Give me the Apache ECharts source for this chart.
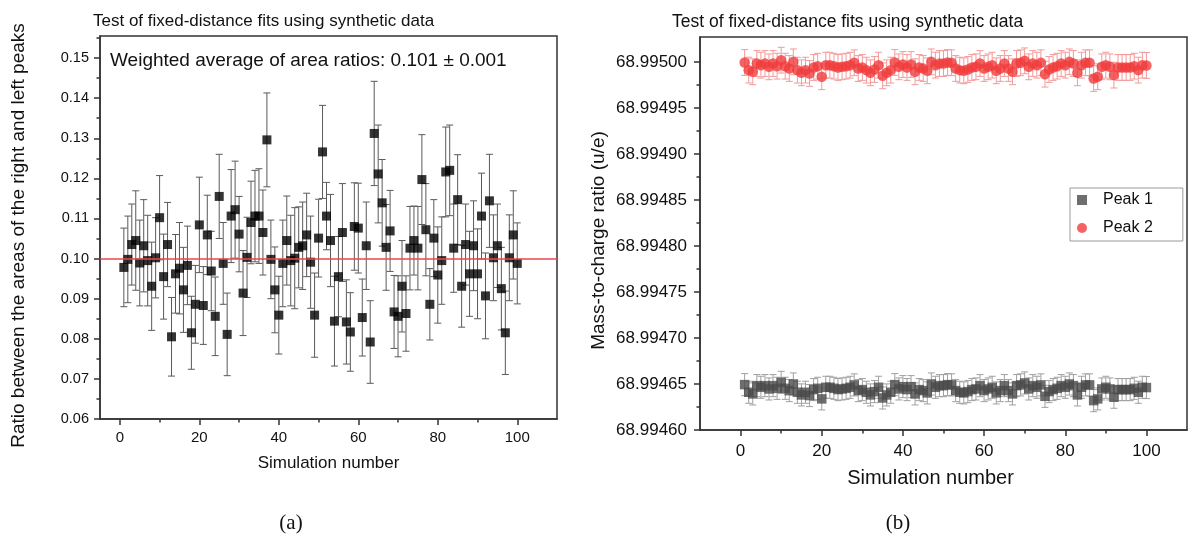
<!DOCTYPE html>
<html><head><meta charset="utf-8">
<script src="https://cdn.jsdelivr.net/npm/echarts@6/dist/echarts.min.js"></script>
<style>html,body{margin:0;padding:0;background:#fff}#c{width:1192px;height:540px}</style>
</head><body><div id="c"></div>
<script>
// ---- data ----
const RATIO = [0.0978,0.0998,0.1035,0.1045,0.0989,0.1032,0.0995,0.0931,0.1002,0.1102,
0.0955,0.1035,0.0805,0.0962,0.0976,0.0922,0.0983,0.0815,0.0886,0.1084,
0.0883,0.1059,0.0969,0.0856,0.1155,0.0988,0.0811,0.1106,0.1122,0.1061,
0.0914,0.1003,0.1090,0.1106,0.1106,0.1065,0.1296,0.0998,0.0922,0.0859,
0.0988,0.1045,0.0995,0.1001,0.1028,0.1032,0.1059,0.0991,0.0859,0.1051,
0.1266,0.1106,0.1045,0.0844,0.0955,0.1065,0.0842,0.0817,0.1080,0.1076,
0.0853,0.1032,0.0792,0.1312,0.1211,0.1139,0.1028,0.1069,0.0867,0.0856,
0.0931,0.0863,0.1026,0.1045,0.1026,0.1197,0.1072,0.0886,0.1051,0.0959,
0.0995,0.1216,0.1220,0.1026,0.1147,0.0931,0.1035,0.0962,0.1032,0.0962,
0.1106,0.0907,0.1144,0.1002,0.1032,0.0925,0.0815,0.1002,0.1059,0.0988];
const RATIO_ERR = [0.0098,0.0108,0.0101,0.0124,0.0107,0.0115,0.0113,0.0110,0.0100,0.0105,
0.0106,0.0105,0.0098,0.0098,0.0114,0.0106,0.0098,0.0091,0.0097,0.0119,
0.0097,0.0099,0.0099,0.0098,0.0105,0.0102,0.0103,0.0116,0.0121,0.0094,
0.0106,0.0100,0.0103,0.0114,0.0118,0.0106,0.0117,0.0098,0.0107,0.0097,
0.0108,0.0111,0.0113,0.0126,0.0101,0.0109,0.0104,0.0115,0.0105,0.0097,
0.0116,0.0084,0.0115,0.0112,0.0100,0.0122,0.0105,0.0098,0.0109,0.0112,
0.0096,0.0109,0.0103,0.0130,0.0122,0.0108,0.0107,0.0101,0.0091,0.0101,
0.0114,0.0094,0.0104,0.0086,0.0104,0.0112,0.0115,0.0089,0.0096,0.0120,
0.0109,0.0112,0.0113,0.0110,0.0112,0.0102,0.0101,0.0106,0.0112,0.0112,
0.0107,0.0107,0.0116,0.0107,0.0104,0.0103,0.0104,0.0107,0.0110,0.0101];
const PEAK2 = [68.9949993,68.9949910,68.9949892,68.9949982,68.9949964,68.9949982,68.9949946,68.9949982,68.9949953,68.9950018,
68.9949953,68.9949928,68.9950000,68.9949910,68.9949881,68.9949910,68.9949874,68.9949939,68.9949953,68.9949838,
68.9949964,68.9949964,68.9949953,68.9949939,68.9949946,68.9949953,68.9949964,68.9949990,68.9949928,68.9949939,
68.9949910,68.9949881,68.9949917,68.9949964,68.9949848,68.9949881,68.9949910,68.9949993,68.9949946,68.9949971,
68.9949939,68.9949971,68.9949892,68.9949939,68.9949928,68.9949903,68.9950000,68.9949964,68.9949982,68.9949982,
68.9949993,68.9949990,68.9949928,68.9949910,68.9949903,68.9949917,68.9949939,68.9949946,68.9949982,68.9949928,
68.9949946,68.9949964,68.9949903,68.9949928,68.9949982,68.9949928,68.9949892,68.9949982,68.9949990,68.9950011,
68.9949946,68.9949982,68.9949964,68.9949990,68.9949866,68.9949917,68.9949939,68.9949953,68.9949982,68.9949964,
68.9950000,68.9949982,68.9949881,68.9949964,68.9949990,68.9949990,68.9949819,68.9949838,68.9949946,68.9949964,
68.9949946,68.9949856,68.9949939,68.9949939,68.9949939,68.9949939,68.9949953,68.9949910,68.9949964,68.9949961];
const PEAK1 = [68.9946493,68.9946410,68.9946392,68.9946482,68.9946464,68.9946482,68.9946446,68.9946482,68.9946453,68.9946518,
68.9946453,68.9946428,68.9946500,68.9946410,68.9946381,68.9946410,68.9946374,68.9946439,68.9946453,68.9946338,
68.9946464,68.9946464,68.9946453,68.9946439,68.9946446,68.9946453,68.9946464,68.9946490,68.9946428,68.9946439,
68.9946410,68.9946381,68.9946417,68.9946464,68.9946348,68.9946381,68.9946410,68.9946493,68.9946446,68.9946471,
68.9946439,68.9946471,68.9946392,68.9946439,68.9946428,68.9946403,68.9946500,68.9946464,68.9946482,68.9946482,
68.9946493,68.9946490,68.9946428,68.9946410,68.9946403,68.9946417,68.9946439,68.9946446,68.9946482,68.9946428,
68.9946446,68.9946464,68.9946403,68.9946428,68.9946482,68.9946428,68.9946392,68.9946482,68.9946490,68.9946511,
68.9946446,68.9946482,68.9946464,68.9946490,68.9946366,68.9946417,68.9946439,68.9946453,68.9946482,68.9946464,
68.9946500,68.9946482,68.9946381,68.9946464,68.9946490,68.9946490,68.9946319,68.9946338,68.9946446,68.9946464,
68.9946446,68.9946356,68.9946439,68.9946439,68.9946439,68.9946439,68.9946453,68.9946410,68.9946464,68.9946461];
const PEAK1_ERR = 0.000012;
const PEAK2_ERR = 0.000014;
const REF_RATIO = 0.10;
const SIM = Array.from({length: 100}, (_, i) => i + 1);

const X_TICKS = [0, 20, 40, 60, 80, 100];
const X_MINOR = [10, 30, 50, 70, 90];
const LEFT_Y_TICKS = [0.06, 0.07, 0.08, 0.09, 0.10, 0.11, 0.12, 0.13, 0.14, 0.15];
const LEFT_Y_MINOR = [0.065, 0.075, 0.085, 0.095, 0.105, 0.115, 0.125, 0.135, 0.145, 0.155];
const RIGHT_Y_TICKS = [68.9946, 68.99465, 68.9947, 68.99475, 68.9948, 68.99485, 68.9949, 68.99495, 68.995];
const RIGHT_Y_MINOR = [68.994625, 68.994675, 68.994725, 68.994775, 68.994825, 68.994875, 68.994925, 68.994975];

const TITLE = 'Test of fixed-distance fits using synthetic data';
const NOTE = 'Weighted average of area ratios: 0.101 \u00b1 0.001';

// ---- styling / layout ----
const FONT = "'Liberation Sans', Arial, sans-serif";
const AX = '#333';

function errorBars(xi, yi, vals, err, color, capW) {
  const data = vals.map((v, i) => {
    const e = Array.isArray(err) ? err[i] : err;
    return [SIM[i], v - e, v + e];
  });
  return {
    type: 'custom', xAxisIndex: xi, yAxisIndex: yi, data: data, z: 1, silent: true,
    encode: {x: 0, y: [1, 2]},
    renderItem: function (params, api) {
      const x = api.value(0);
      const lo = api.coord([x, api.value(1)]);
      const hi = api.coord([x, api.value(2)]);
      const h = capW / 2;
      const st = {stroke: color, lineWidth: 1};
      return {type: 'group', children: [
        {type: 'line', shape: {x1: lo[0], y1: lo[1], x2: hi[0], y2: hi[1]}, style: st},
        {type: 'line', shape: {x1: lo[0] - h, y1: lo[1], x2: lo[0] + h, y2: lo[1]}, style: st},
        {type: 'line', shape: {x1: hi[0] - h, y1: hi[1], x2: hi[0] + h, y2: hi[1]}, style: st}
      ]};
    }
  };
}

function majorX(grid, min, max, fs, margin, nameGap, nameFs, namePad) {
  return {
    type: 'value', gridIndex: grid, min: min, max: max, position: 'bottom',
    axisLine: {show: true, onZero: false, lineStyle: {color: AX, width: 1.5}},
    axisTick: {show: true, inside: false, length: 6, customValues: X_TICKS, lineStyle: {color: AX, width: 1.5}},
    axisLabel: {customValues: X_TICKS, fontSize: fs, margin: margin, color: '#111', fontFamily: FONT},
    splitLine: {show: false},
    name: 'Simulation number', nameLocation: 'middle', nameGap: nameGap,
    nameTextStyle: {fontSize: nameFs, color: '#111', fontFamily: FONT, padding: namePad}
  };
}
function minorX(grid, min, max) {
  return {
    type: 'value', gridIndex: grid, min: min, max: max, position: 'bottom',
    axisLine: {show: false, onZero: false},
    axisTick: {show: true, inside: false, length: 3.5, customValues: X_MINOR, lineStyle: {color: AX, width: 1.5}},
    axisLabel: {show: false}, splitLine: {show: false}
  };
}
function minorY(grid, min, max, vals) {
  return {
    type: 'value', gridIndex: grid, min: min, max: max, position: 'left', offset: 0,
    axisLine: {show: false, onZero: false},
    axisTick: {show: true, inside: false, length: 3.5, customValues: vals, lineStyle: {color: AX, width: 1.5}},
    axisLabel: {show: false}, splitLine: {show: false}
  };
}

const option = {
  animation: false,
  backgroundColor: '#fff',
  title: [
    {text: TITLE, left: 88, top: 8, textStyle: {fontSize: 17, fontWeight: 'normal', color: '#111', fontFamily: FONT}},
    {text: TITLE, left: 667, top: 8, textStyle: {fontSize: 17.5, fontWeight: 'normal', color: '#111', fontFamily: FONT}},
    {text: NOTE, left: 105, top: 46, textStyle: {fontSize: 19, fontWeight: 'normal', color: '#111', fontFamily: FONT}},
    {text: '(a)', left: 286, textAlign: 'center', top: 508, textStyle: {fontSize: 21, fontWeight: 'normal', color: '#111', fontFamily: "'Liberation Serif', 'DejaVu Serif', serif"}},
    {text: '(b)', left: 893, textAlign: 'center', top: 508, textStyle: {fontSize: 21, fontWeight: 'normal', color: '#111', fontFamily: "'Liberation Serif', 'DejaVu Serif', serif"}}
  ],
  legend: {
    orient: 'vertical', left: 1070, top: 188,
    data: [{name: 'Peak 1', icon: 'rect'}, {name: 'Peak 2', icon: 'circle'}],
    itemWidth: 10, itemHeight: 10, itemGap: 12,
    padding: [4, 30, 5, 7],
    borderColor: '#999', borderWidth: 1, borderRadius: 0,
    textStyle: {fontSize: 16, color: '#111', fontFamily: FONT, padding: [0, 0, 0, 11]}
  },
  grid: [
    {left: 100, top: 36, width: 457, height: 383, show: true, borderColor: AX, borderWidth: 1.5, backgroundColor: 'transparent', containLabel: false},
    {left: 700, top: 37, width: 487, height: 393, show: true, borderColor: AX, borderWidth: 1.5, backgroundColor: 'transparent', containLabel: false}
  ],
  xAxis: [
    majorX(0, -5, 110, 15, 11, 36, 17, [0, 0, 0, 0]),
    minorX(0, -5, 110),
    majorX(1, -10, 110, 17, 13, 38, 20, [0, 26, 0, 0]),
    minorX(1, -10, 110)
  ],
  yAxis: [
    {
      type: 'value', gridIndex: 0, min: 0.06, max: 0.1555, position: 'left',
      axisLine: {show: true, onZero: false, lineStyle: {color: AX, width: 1.5}},
      axisTick: {show: true, inside: false, length: 6, customValues: LEFT_Y_TICKS, lineStyle: {color: AX, width: 1.5}},
      axisLabel: {customValues: LEFT_Y_TICKS, formatter: v => v.toFixed(2), fontSize: 14.5, margin: 11, color: '#111', fontFamily: FONT},
      splitLine: {show: false},
      name: 'Ratio between the areas of the right and left peaks', nameLocation: 'middle', nameGap: 72, nameRotate: 90,
      nameTextStyle: {fontSize: 19, color: '#111', fontFamily: FONT, padding: [0, 16, 0, 0]}
    },
    minorY(0, 0.06, 0.1555, LEFT_Y_MINOR),
    {
      type: 'value', gridIndex: 1, min: 68.9946, max: 68.995027, position: 'left',
      axisLine: {show: true, onZero: false, lineStyle: {color: AX, width: 1.5}},
      axisTick: {show: true, inside: false, length: 6, customValues: RIGHT_Y_TICKS, lineStyle: {color: AX, width: 1.5}},
      axisLabel: {customValues: RIGHT_Y_TICKS, formatter: v => v.toFixed(5), fontSize: 17, margin: 13, color: '#111', fontFamily: FONT},
      splitLine: {show: false},
      name: 'Mass-to-charge ratio (u/e)', nameLocation: 'middle', nameGap: 92, nameRotate: 90,
      nameTextStyle: {fontSize: 19, color: '#111', fontFamily: FONT, padding: [0, 14, 0, 0]}
    },
    minorY(1, 68.9946, 68.995027, RIGHT_Y_MINOR)
  ],
  series: [
    errorBars(0, 0, RATIO, RATIO_ERR, '#5a5a5a', 7),
    {
      type: 'scatter', name: 'Ratio', xAxisIndex: 0, yAxisIndex: 0, z: 3,
      data: RATIO.map((v, i) => [SIM[i], v]),
      symbol: 'rect', symbolSize: 9, itemStyle: {color: '#000'},
      markLine: {
        silent: true, symbol: ['none', 'none'], label: {show: false},
        lineStyle: {color: '#e8474e', width: 1.5, type: 'solid'},
        data: [{yAxis: REF_RATIO}]
      }
    },
    errorBars(2, 2, PEAK1, PEAK1_ERR, '#a0a0a0', 7),
    {
      type: 'scatter', name: 'Peak 1', xAxisIndex: 2, yAxisIndex: 2, z: 3,
      data: PEAK1.map((v, i) => [SIM[i], v]),
      symbol: 'rect', symbolSize: 9.5, itemStyle: {color: '#4a4a4a'}
    },
    errorBars(2, 2, PEAK2, PEAK2_ERR, '#f39a9a', 7),
    {
      type: 'scatter', name: 'Peak 2', xAxisIndex: 2, yAxisIndex: 2, z: 3,
      data: PEAK2.map((v, i) => [SIM[i], v]),
      symbol: 'circle', symbolSize: 10.5, itemStyle: {color: '#f03c3c'}
    }
  ]
};

const chart = echarts.init(document.getElementById('c'), null, {renderer: 'canvas'});
chart.setOption(option);
</script>
</body></html>
